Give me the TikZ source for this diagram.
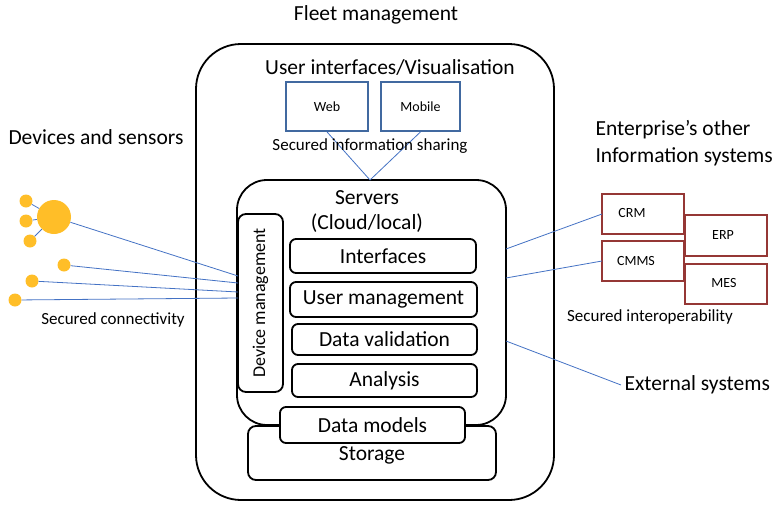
\documentclass[tikz,border=0pt]{standalone}
\usepackage{fontspec}
\setmainfont{Carlito}
\begin{document}
\begin{tikzpicture}[x=1pt,y=-1pt,
  blk/.style={draw=black,line width=1.8pt,fill=white,inner sep=0pt},
  uibox/.style={draw=uiblue,line width=1.8pt,fill=white,inner sep=0pt,font=\fontsize{14}{16}\selectfont},
  ebox/.style={draw=entred,line width=1.8pt,fill=white,inner sep=0pt},
  small/.style={font=\fontsize{14}{16}\selectfont},
  mid/.style={font=\fontsize{17}{20}\selectfont},
  big/.style={font=\fontsize{21.5}{25}\selectfont},
  link/.style={draw=linkblue,line width=0.8pt},
  dot/.style={circle,fill=dotyellow,inner sep=0pt,minimum size=13pt},
]
\definecolor{uiblue}{RGB}{65,105,160}
\definecolor{entred}{RGB}{149,55,53}
\definecolor{linkblue}{RGB}{68,114,196}
\definecolor{dotyellow}{RGB}{255,190,40}
\useasboundingbox (0,0) rectangle (779,506);

% outer fleet box
\node[blk,rounded corners=45pt,minimum width=358pt,minimum height=456pt] (fleet) at (375,272) {};
\node[big] (tfleet) at (376,15) {Fleet management};
\node[big] (tui) at (390,67) {User interfaces/Visualisation};

% web/mobile
\node[uibox,minimum width=82pt,minimum height=49pt] (web) at (327,106.5) {Web};
\node[uibox,minimum width=79pt,minimum height=49pt] (mobile) at (420.5,106.5) {Mobile};

% servers
\node[blk,rounded corners=30pt,minimum width=269pt,minimum height=245pt] (srv) at (371.5,302.5) {};
\coordinate (srvtop) at (370,180);
\draw[link] (web.south) -- (srvtop);
\draw[link] (mobile.south) -- (srvtop);
\node[mid] (tsis) at (370,146) {Secured information sharing};
\node[big] (tsrv) at (367,198) {Servers};
\node[big] (tcl) at (367,223) {(Cloud/local)};

\node[blk,rounded corners=8pt,minimum width=45pt,minimum height=178pt] (dev) at (260.5,303) {};
\node[rotate=90,font=\fontsize{18}{21}\selectfont] (tdev) at (dev.center) {Device management};
\node[blk,rounded corners=6pt,minimum width=186pt,minimum height=34pt,big] (intf) at (383,256) {Interfaces};
\node[blk,rounded corners=6pt,minimum width=187pt,minimum height=35pt,big] (umg) at (383.5,299.5) {User management};
\node[blk,rounded corners=6pt,minimum width=185pt,minimum height=31pt,big] (dval) at (384.5,339.5) {Data validation};
\node[blk,rounded corners=6pt,minimum width=185pt,minimum height=33pt,big] (anl) at (384.5,380.5) {Analysis};

% storage & data models
\node[blk,rounded corners=8pt,minimum width=248pt,minimum height=54pt] (stor) at (372,453) {};
\node[big] (tstor) at (372,455) {Storage};
\node[blk,rounded corners=6pt,minimum width=185pt,minimum height=36pt,big] (dmod) at (372.5,425) {Data models};

% devices
\node[big] (tdevs) at (96,137) {Devices and sensors};
\node[dot,minimum size=34pt] (big) at (54,217) {};
\node[dot] (s1) at (26,201) {};
\node[dot] (s2) at (26,221) {};
\node[dot] (s3) at (30,241) {};
\node[dot] (s4) at (64,265) {};
\node[dot] (s5) at (32,281) {};
\node[dot] (s6) at (15,300) {};
\draw[link] (s1) -- (big);
\draw[link] (s2) -- (big);
\draw[link] (s3) -- (big);
\coordinate (d1) at (238,276);
\coordinate (d2) at (238,283);
\coordinate (d3) at (238,292);
\coordinate (d4) at (238,298);
\draw[link] (big) -- (d1);
\draw[link] (s4) -- (d2);
\draw[link] (s5) -- (d3);
\draw[link] (s6) -- (d4);
\node[mid] (tsc) at (113,320) {Secured connectivity};

% enterprise systems
\node[big,anchor=west] (tent1) at (592,130) {Enterprise’s other};
\node[big,anchor=west] (tent2) at (592,157) {Information systems};
\node[ebox,minimum width=82pt,minimum height=40pt] (crm) at (643,214) {};
\node[small] (tcrm) at (632,213) {CRM};
\node[ebox,minimum width=82pt,minimum height=41pt] (erp) at (726,235.5) {};
\node[small] (terp) at (723,235) {ERP};
\node[ebox,minimum width=82pt,minimum height=40pt] (cmms) at (643,261) {};
\node[small] (tcmms) at (636,261) {CMMS};
\node[ebox,minimum width=82pt,minimum height=40pt] (mes) at (726,284) {};
\node[small] (tmes) at (724,283) {MES};
\node[mid] (tsio) at (650,317) {Secured interoperability};
\node[big,anchor=west] (text) at (621,385) {External systems};

\coordinate (r1) at (506,249);
\coordinate (r2) at (506,278);
\coordinate (r3) at (506,341);
\coordinate (crmw) at (602,214);
\coordinate (cmmsw) at (602,261);
\draw[link] (r1) -- (crmw);
\draw[link] (r2) -- (cmmsw);
\draw[link] (r3) -- (text.west);
\end{tikzpicture}
\end{document}
